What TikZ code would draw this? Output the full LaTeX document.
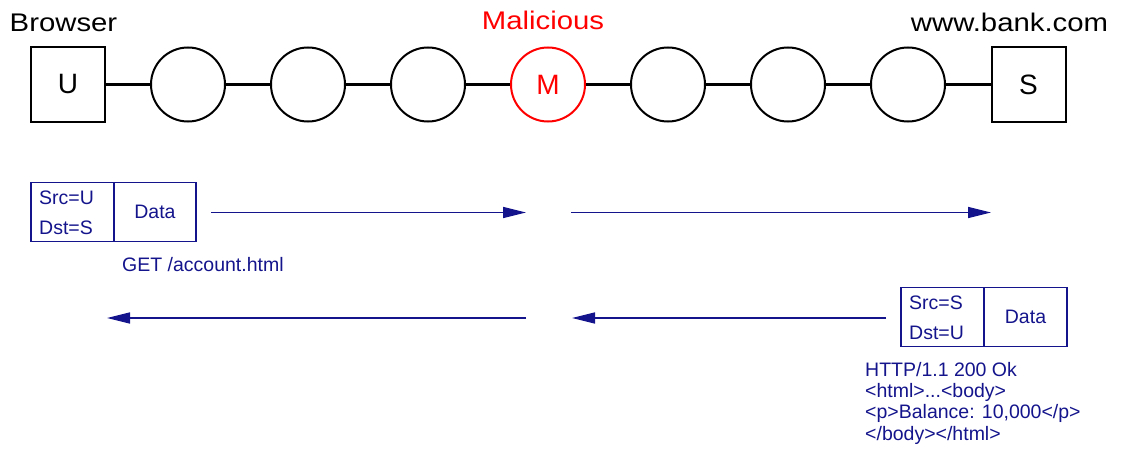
\documentclass[tikz,border=0pt]{standalone}
\usepackage{fontspec}
\setmainfont{Liberation Sans}
\newfontfamily\widefont{Liberation Sans}[FakeStretch=1.15]
\usetikzlibrary{arrows.meta}
\definecolor{pkt}{RGB}{20,20,140}
\definecolor{mal}{RGB}{255,0,0}
\begin{document}
\begin{tikzpicture}[x=1pt,y=-1pt,
  hostbox/.style={draw, line width=2pt, minimum size=74pt, inner sep=0pt, font=\fontsize{28}{30}\selectfont},
  hop/.style={draw, circle, line width=2pt, minimum size=74pt, inner sep=0pt, font=\fontsize{28}{30}\selectfont},
  link/.style={line width=2.2pt},
  lbl/.style={font=\widefont\fontsize{25.5}{28}\selectfont, inner sep=0pt, anchor=base},
  cell/.style={draw=pkt, line width=1.1pt, minimum height=59pt, inner sep=0pt, outer sep=0pt},
  ptxt/.style={text=pkt, font=\fontsize{19.5}{21.3}\selectfont, inner sep=0pt},
  flow/.style={draw=pkt, line width=1.5pt, -{Triangle[length=23pt,width=11pt]}}
]
\useasboundingbox (0,0) rectangle (1125,452);
% top chain
\node[hostbox] (U) at (68,84.5) {U};
\node[hop] (h1) at (188,84.5) {};
\node[hop] (h2) at (308,84.5) {};
\node[hop] (h3) at (428,84.5) {};
\node[hop, draw=mal, text=mal] (M) at (548,84.5) {M};
\node[hop] (h5) at (668,84.5) {};
\node[hop] (h6) at (788,84.5) {};
\node[hop] (h7) at (908,84.5) {};
\node[hostbox] (S) at (1028.5,84.5) {S};
\draw[link] (U) -- (h1);
\draw[link] (h1) -- (h2);
\draw[link] (h2) -- (h3);
\draw[link] (h3) -- (M);
\draw[link] (M) -- (h5);
\draw[link] (h5) -- (h6);
\draw[link] (h6) -- (h7);
\draw[link] (h7) -- (S);
% labels
\node[lbl] (lb) at (63.5,31.7) {Browser};
\node[lbl, text=mal] (lm) at (543,29.5) {Malicious};
\node[lbl] (ls) at (1009.5,31.7) {www.bank.com};
% request packet
\node[cell, minimum width=83pt] (src1) at (72.5,212) {};
\node[cell, minimum width=82pt, anchor=west, ptxt] (dat1) at (src1.east) {Data};
\node[ptxt, anchor=west] (s1) at (39,198) {Src=U};
\node[ptxt, anchor=west] (d1) at (39,228) {Dst=S};
\node[ptxt, anchor=west] (get) at (122,265) {GET /account.html};
\coordinate (a1s) at (211,212.5);
\coordinate (a1e) at (526,212.5);
\coordinate (a2s) at (571,212.5);
\coordinate (a2e) at (991,212.5);
\draw[flow] (a1s) -- (a1e);
\draw[flow] (a2s) -- (a2e);
% response packet
\node[cell, minimum width=83pt] (src2) at (942.5,317) {};
\node[cell, minimum width=83pt, anchor=west, ptxt] (dat2) at (src2.east) {Data};
\node[ptxt, anchor=west] (s2) at (909,303) {Src=S};
\node[ptxt, anchor=west] (d2) at (909,333) {Dst=U};
\node[ptxt, anchor=north west, align=left] (resp) at (865,362) {HTTP/1.1 200 Ok\\<html>...<body>\\<p>Balance: 10,000</p>\\</body></html>};
\coordinate (b1s) at (886,318);
\coordinate (b1e) at (572,318);
\coordinate (b2s) at (526,318);
\coordinate (b2e) at (107,318);
\draw[flow] (b1s) -- (b1e);
\draw[flow] (b2s) -- (b2e);
\end{tikzpicture}
\end{document}
